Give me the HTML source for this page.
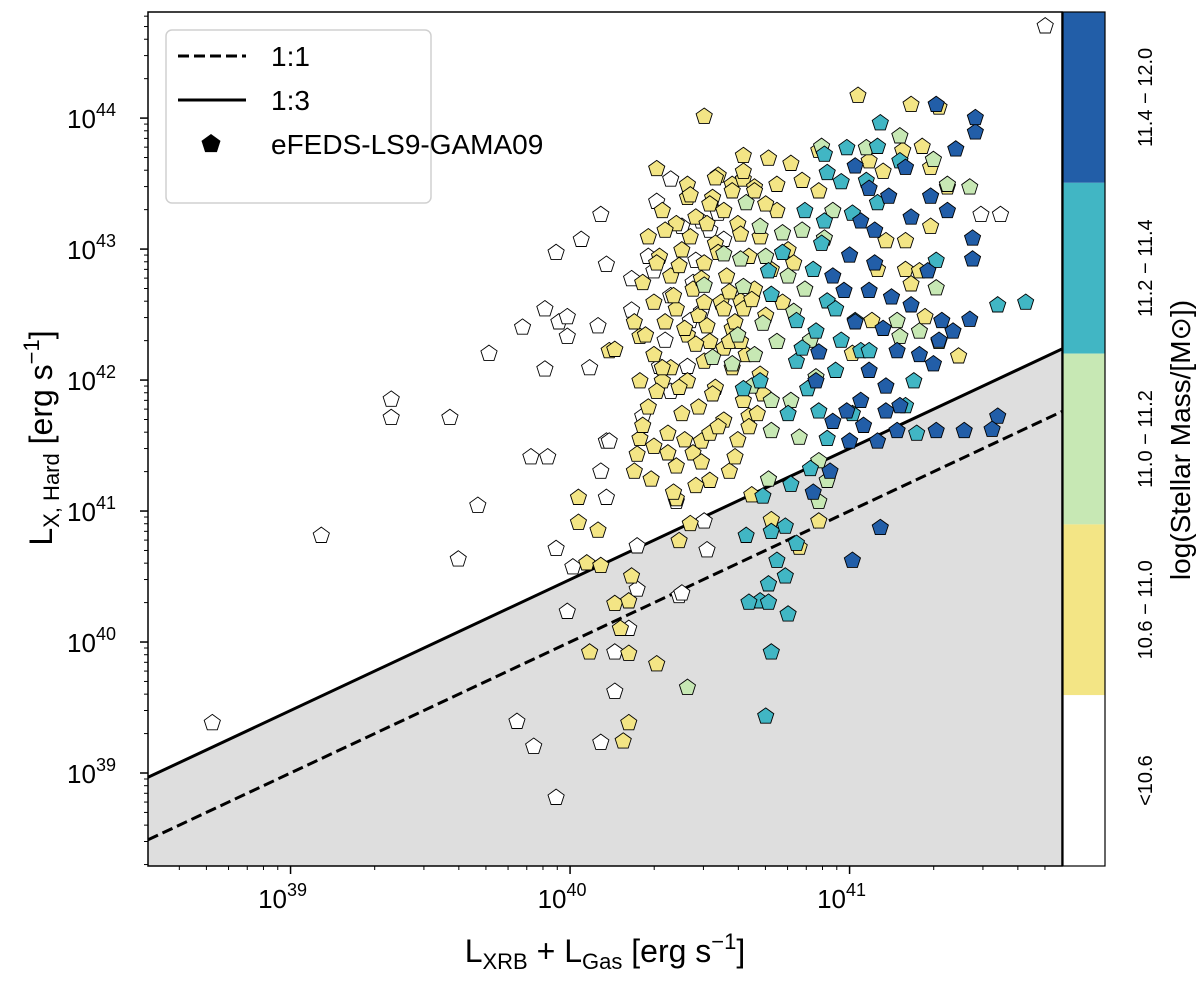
<!DOCTYPE html>
<html><head><meta charset="utf-8"><style>
html,body{margin:0;padding:0;background:#fff;}
svg{display:block;font-family:"Liberation Sans",sans-serif;}
</style></head><body>
<svg id="chart" width="1200" height="986" viewBox="0 0 1200 986">
<g id="plot"></g>
</svg>
<script>
// ---- data (log10 values) ----
const seriesLabels = ["<10.6","10.6-11.0","11.0-11.2","11.2-11.4","11.4-12.0"];
const whiteX = [38.72,39.11,39.36,39.36,39.57,39.60,39.67,39.71,39.83,39.86,39.91,39.92,39.95,39.96,39.99,39.99,40.01,39.95,39.99,39.91,39.87,39.95,39.81,40.04,40.07,40.11,40.13,40.10,40.11,40.13,40.13,40.14,40.16,40.11,40.16,40.22,40.22,40.24,40.24,40.21,40.26,40.30,40.31,40.36,40.40,40.45,40.47,40.47,40.43,40.36,40.38,40.39,40.40,40.49,40.48,40.53,40.55,40.32,40.34,40.42,41.70,41.47,41.54,40.28,40.36,40.44,40.50];
const whiteY = [39.39,40.82,41.72,41.86,41.72,40.64,41.05,42.21,42.41,41.42,42.55,41.42,42.98,42.45,42.34,42.49,40.58,40.72,40.24,42.09,39.21,38.82,39.40,43.08,42.10,43.27,42.89,42.42,41.31,41.54,41.11,41.54,39.93,39.24,39.63,42.78,42.54,40.41,40.74,40.11,41.73,42.84,43.37,43.54,43.18,42.92,43.22,42.53,42.46,41.92,41.08,40.36,40.38,40.71,40.93,43.28,43.08,42.11,42.31,42.11,44.71,43.27,43.27,42.95,42.65,42.75,43.15];
const yellowX = [41.03,41.22,41.32,40.48,40.31,40.42,40.62,40.71,40.79,40.53,40.58,40.51,40.62,40.66,40.74,40.83,40.89,40.89,41.07,41.12,41.19,41.26,41.35,41.29,41.13,41.10,41.20,41.22,41.39,41.27,41.08,41.01,41.25,41.20,41.29,
40.03,40.03,40.06,40.11,40.16,40.18,40.21,40.31,40.21,40.22,40.07,40.10,40.21,40.19,40.24,40.23,40.25,40.26,40.14,40.25,40.16,40.33,40.31,40.38,40.39,40.43,40.61,40.64,40.65,40.72,40.82,40.89,40.57,40.50,40.47,
40.28,40.32,40.36,40.40,40.44,40.48,40.52,40.56,40.60,40.64,40.68,40.72,40.30,40.34,40.38,40.42,40.46,40.50,40.54,40.58,40.62,40.66,40.70,40.74,40.78,40.45,40.50,40.55,40.38,40.33,40.30,40.36,40.42,40.48,40.52,40.58,40.62,40.68,40.40,40.46,40.55,40.60,40.35,40.44,40.50,40.25,40.28,40.30,40.38,40.26,40.23,40.42,40.58,40.66,40.70,40.62,40.52,40.76,40.80,40.48,
40.34,40.39,40.43,40.47,40.53,40.57,40.61,40.65,40.31,40.37,40.41,40.45,40.49,40.55,40.59,40.63,40.27,40.33,40.39,40.51,40.57,40.64,40.69,40.35,40.41,40.47,40.53,40.59,40.29,40.43,40.49,40.55,40.61,40.67,40.37,40.45];
const yellowY = [44.18,44.11,44.09,44.02,43.62,43.50,43.72,43.70,43.66,43.57,43.50,43.40,43.54,43.48,43.50,43.53,43.76,43.45,43.68,43.60,43.76,43.79,43.48,43.63,43.07,42.85,42.85,42.74,42.19,42.49,42.46,42.21,42.84,43.07,43.18,
41.11,40.92,40.61,40.59,40.30,40.11,39.92,39.84,40.32,40.51,39.93,40.86,39.39,39.25,41.44,41.31,41.56,41.66,42.23,42.34,42.24,42.00,41.92,41.10,40.78,40.91,42.61,41.73,41.13,40.94,40.73,40.93,41.31,41.24,41.54,
43.1,42.95,42.8,43.0,42.7,42.9,43.05,42.8,43.2,42.95,43.1,42.85,42.6,42.45,42.55,42.35,42.5,42.3,42.6,42.4,42.55,42.7,42.5,43.3,43.0,43.25,43.35,43.3,43.2,43.3,42.2,42.1,42.0,42.15,41.95,42.1,41.85,42.05,41.75,41.8,41.7,41.55,41.6,41.45,41.6,42.0,41.8,41.5,41.35,42.75,42.45,43.4,43.45,43.45,43.35,43.6,43.55,42.6,42.9,42.6,
43.15,42.88,43.1,42.78,42.98,42.68,43.12,42.62,42.9,42.65,42.4,42.28,42.42,42.25,42.45,42.2,42.35,42.1,41.95,41.9,42.3,41.65,41.9,41.45,41.55,41.38,41.65,41.42,41.25,43.42,43.2,42.55,42.3,41.75,41.15,41.2];
const greenX = [41.43,41.35,41.30,41.18,41.06,40.90,40.94,40.91,40.83,40.76,40.68,40.61,40.62,40.69,40.80,40.86,40.88,40.79,40.72,40.72,40.82,40.89,40.92,40.89,40.71,40.42,41.31,41.25,41.18,41.32,41.17,40.65,40.58,40.51,40.48,40.55,40.63,40.74,40.78,40.66,40.84,40.70,40.60];
const greenY = [43.48,43.50,43.69,43.87,43.78,43.79,43.30,43.09,43.15,43.13,43.18,42.93,42.72,42.44,42.53,42.31,42.03,41.85,41.85,41.62,41.57,41.39,41.24,41.08,41.25,39.66,42.71,42.38,42.34,42.30,42.46,41.96,42.13,42.18,42.73,42.97,43.36,42.3,42.8,42.2,42.7,42.95,42.35];
const tealX = [41.11,41.10,40.99,40.91,40.92,40.97,41.06,41.18,41.10,41.01,40.84,40.91,40.76,40.71,40.72,40.81,40.92,40.88,40.81,40.97,41.02,41.04,40.95,40.89,40.92,40.86,40.79,40.69,40.72,40.63,40.77,40.81,40.74,40.71,40.77,40.68,40.64,40.71,40.72,40.78,40.70,41.23,41.20,41.24,41.53,41.31,41.01,41.07,40.85,40.68,40.62,41.63,40.87,40.95,40.83,40.78,40.90];
const tealY = [43.97,43.79,43.78,43.73,43.59,43.52,43.53,43.68,43.36,43.28,43.30,43.22,42.98,42.84,42.66,42.46,42.61,42.38,42.15,42.31,42.46,42.23,42.08,41.77,41.56,41.33,41.21,41.12,40.85,40.82,40.89,40.76,40.63,40.45,40.51,40.32,40.31,40.31,39.93,40.22,39.44,42.00,41.81,41.60,42.58,42.92,41.75,42.23,41.94,42.00,41.94,42.60,42.85,42.55,42.25,41.75,43.05];
const blueX = [41.31,41.45,41.38,41.20,41.29,41.45,41.22,41.14,41.02,41.07,41.04,41.09,41.00,40.94,40.98,41.07,41.15,41.22,41.33,41.43,41.37,41.28,41.44,41.32,41.17,41.07,41.13,41.04,40.99,41.13,41.18,41.05,41.00,41.17,41.10,40.94,40.89,40.88,41.31,41.30,41.41,41.53,41.51,41.11,41.01,40.93,40.87,41.44,41.35,41.02,41.12,41.25,41.09];
const blueY = [44.11,43.90,43.77,43.63,43.41,44.01,43.25,43.41,43.64,43.47,43.22,43.15,42.96,42.80,42.69,42.69,42.64,42.58,42.46,42.47,42.38,42.84,42.93,42.31,42.23,42.08,41.96,41.85,41.77,41.77,41.81,41.66,41.54,41.62,41.54,41.69,42.22,42.00,41.62,42.13,41.62,41.73,41.63,40.88,40.63,41.31,41.15,43.09,43.30,42.45,42.4,42.2,42.9];
const xTicks = [39,40,41];
const yTicks = [39,40,41,42,43,44];
const ratioLines = [1,3];

// ---- axes ----
const X0=148,X1=1062,Y0=12,Y1=866;
const xMin=38.49,xMax=41.76,yMin=38.29,yMax=44.81;
const sx=v=>X0+(v-xMin)/(xMax-xMin)*(X1-X0);
const sy=v=>Y1-(v-yMin)/(yMax-yMin)*(Y1-Y0);
const NS="http://www.w3.org/2000/svg";
const svg=document.getElementById('chart');
const plot=document.getElementById('plot');
function mk(tag,attrs,parent){const e=document.createElementNS(NS,tag);for(const k in attrs)e.setAttribute(k,attrs[k]);(parent||svg).appendChild(e);return e;}

const defs=mk('defs',{});const cp=mk('clipPath',{id:'clip'},defs);mk('rect',{x:X0,y:Y0,width:X1-X0,height:Y1-Y0},cp);
plot.setAttribute('clip-path','url(#clip)');

const r3=Math.log10(ratioLines[1]);
const fill=mk('polygon',{points:`${sx(xMin)},${sy(xMin+r3)} ${sx(xMax)},${sy(xMax+r3)} ${sx(xMax)},${Y1} ${sx(xMin)},${Y1}`,fill:'#dedede'},plot);



ratioLines.forEach((r,i)=>{
  const o=Math.log10(r);
  const l=mk('line',{x1:sx(xMin),y1:sy(xMin+o),x2:sx(xMax),y2:sy(xMax+o),stroke:'#000','stroke-width':3},plot);
  if(i===0)l.setAttribute('stroke-dasharray','11,5');
  
  
});

function pent(cx,cy,r){let p=[];for(let k=0;k<5;k++){const a=-Math.PI/2+k*2*Math.PI/5;p.push((cx+r*Math.cos(a)).toFixed(1)+','+(cy+r*Math.sin(a)+1).toFixed(1));}return p.join(' ');}
const groups=[[whiteX,whiteY,'#ffffff'],[yellowX,yellowY,'#f3e585'],[greenX,greenY,'#c7e8b4'],[tealX,tealY,'#41b6c4'],[blueX,blueY,'#225ea8']];
groups.forEach((g,gi)=>{
  const [xs,ys,c]=g;
  xs.forEach((v,i)=>{
    const p=mk('polygon',{points:pent(sx(v),sy(ys[i]),8.5),fill:c,stroke:'#000','stroke-width':0.9},plot);
    
    
  });
});

const fr=mk('rect',{x:X0,y:Y0,width:X1-X0,height:Y1-Y0,fill:'none',stroke:'#000','stroke-width':1.5});



function sup(base,exp,x,y,anchor,name){
  const tx=mk('text',{x:x,y:y,'font-size':26,'text-anchor':anchor,fill:'#000'});
  
  
  const a=document.createElementNS(NS,'tspan');a.textContent=base;tx.appendChild(a);
  const b=document.createElementNS(NS,'tspan');b.setAttribute('dy','-12');b.setAttribute('font-size','18');b.textContent=exp;tx.appendChild(b);
}
for(let d=38;d<=41;d++){for(let m=1;m<10;m++){const v=d+Math.log10(m);if(v<xMin||v>xMax)continue;
  mk('line',{x1:sx(v),y1:Y1,x2:sx(v),y2:Y1+(m===1?8:4),stroke:'#000','stroke-width':m===1?1.5:1});}}
for(let d=38;d<=44;d++){for(let m=1;m<10;m++){const v=d+Math.log10(m);if(v<yMin||v>yMax)continue;
  mk('line',{x1:X0,y1:sy(v),x2:X0-(m===1?8:4),y2:sy(v),stroke:'#000','stroke-width':m===1?1.5:1});}}
xTicks.forEach(t=>sup('10',String(t),sx(t)-8,Y1+42,'middle','x-tick-label'));
yTicks.forEach(t=>sup('10',String(t),X0-32,sy(t)+10,'end','y-tick-label'));

const xt=mk('text',{x:605,y:962,'font-size':32,'text-anchor':'middle'});

xt.innerHTML='L<tspan dy="7" font-size="22">XRB</tspan><tspan dy="-7"> + L</tspan><tspan dy="7" font-size="22">Gas</tspan><tspan dy="-7"> [erg s</tspan><tspan dy="-13" font-size="22">−1</tspan><tspan dy="13">]</tspan>';
const yt=mk('text',{x:0,y:0,'font-size':32,'text-anchor':'middle',transform:'translate(52,438) rotate(-90)'});

yt.innerHTML='L<tspan dy="7" font-size="22">X, Hard</tspan><tspan dy="-7"> [erg s</tspan><tspan dy="-13" font-size="22">−1</tspan><tspan dy="13">]</tspan>';

const lg=mk('g',{});
mk('rect',{x:166,y:30,width:265,height:173,rx:6,fill:'#fff',stroke:'#d0d0d0','stroke-width':1.5},lg);
mk('line',{x1:178,y1:56,x2:246,y2:56,stroke:'#000','stroke-width':3,'stroke-dasharray':'11,5'},lg);
mk('line',{x1:178,y1:100,x2:246,y2:100,stroke:'#000','stroke-width':3},lg);
mk('polygon',{points:pent(211,143,10),fill:'#000'},lg);
[['1:1',66],['1:3',110],['eFEDS-LS9-GAMA09',154]].forEach(e=>{const t=mk('text',{x:271,y:e[1],'font-size':28},lg);t.textContent=e[0];
  });

const cb=mk('g',{});
const cbCols=['#225ea8','#41b6c4','#c7e8b4','#f3e585','#ffffff'];
const cbLabels=['11.4 − 12.0','11.2 − 11.4','11.0 − 11.2','10.6 − 11.0','<10.6'];
const segH=(866-12)/5;
cbCols.forEach((c,i)=>{
  mk('rect',{x:1063,y:12+i*segH,width:42,height:segH,fill:c},cb);
  const t=mk('text',{x:0,y:0,'font-size':20,'text-anchor':'middle',transform:`translate(${1152},${12+(i+0.5)*segH}) rotate(-90)`},cb);
  t.textContent=cbLabels[i];
  
});
mk('rect',{x:1063,y:12,width:42,height:854,fill:'none',stroke:'#000','stroke-width':1.2},cb);
const ct=mk('text',{x:0,y:0,'font-size':28,'text-anchor':'middle',transform:'translate(1190,440) rotate(-90)'});
ct.textContent='log(Stellar Mass/[M⊙])';

</script>
</body></html>
